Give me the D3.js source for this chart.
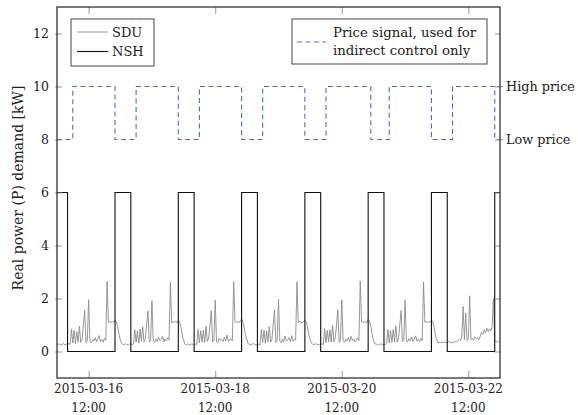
<!DOCTYPE html>
<html>
<head>
<meta charset="utf-8">
<script src="https://cdn.jsdelivr.net/npm/d3@7"></script>
<style>
  body { margin: 0; background: #fff; }
</style>
</head>
<body>
<svg id="chart" width="578" height="415"></svg>
<script>
// tick labels
var xTickLabels = ["2015-03-16 12:00", "2015-03-18 12:00", "2015-03-20 12:00", "2015-03-22 12:00"];
var yTicks = [0, 2, 4, 6, 8, 10, 12];
var priceLabels = [[10, "High price"], [8, "Low price"]];

// NSH heater (kW), step changes
var nshTimes = ["2015-03-16 00:00", "2015-03-16 04:00", "2015-03-16 22:00", "2015-03-17 04:00",
    "2015-03-17 22:00", "2015-03-18 04:00", "2015-03-18 22:00", "2015-03-19 04:00",
    "2015-03-19 22:00", "2015-03-20 04:00", "2015-03-20 22:00", "2015-03-21 04:00",
    "2015-03-21 22:00", "2015-03-22 04:00", "2015-03-22 22:00", "2015-03-23 00:00"];
var nshValues = [6, 0, 6, 0, 6, 0, 6, 0, 6, 0, 6, 0, 6, 0, 6, 6];

// price signal (8 = low, 10 = high)
var priceTimes = ["2015-03-16 00:00", "2015-03-16 06:00", "2015-03-16 22:00", "2015-03-17 06:00",
    "2015-03-17 22:00", "2015-03-18 06:00", "2015-03-18 22:00", "2015-03-19 06:00",
    "2015-03-19 22:00", "2015-03-20 06:00", "2015-03-20 23:00", "2015-03-21 06:00",
    "2015-03-21 22:00", "2015-03-22 06:00", "2015-03-22 22:00", "2015-03-23 00:00"];
var priceValues = [8, 10, 8, 10, 8, 10, 8, 10, 8, 10, 8, 10, 8, 10, 8, 8];

// SDU measured demand (kW), one value per 30 min, one array per day
var sduStart = "2015-03-16 00:00";
var sdu16 = [0.30,0.26,0.28,0.24,0.27,0.30,0.25,0.28,0.26,0.30,0.27,0.85,0.32,0.80,0.30,0.75,0.36,0.95,0.34,0.45,1.00,1.55,0.33,0.40,
    1.95,0.38,0.32,0.45,0.40,0.52,0.36,0.48,0.60,0.38,0.45,0.35,0.50,0.42,2.65,1.10,1.12,1.08,1.15,1.10,1.20,1.12,0.95,0.65];
var sdu17 = [0.45,0.30,0.27,0.25,0.29,0.26,0.24,0.28,0.30,0.25,0.28,0.82,0.35,0.78,0.32,0.85,0.38,0.93,0.36,0.48,1.02,1.52,0.35,0.42,
    1.92,0.40,0.34,0.48,0.38,0.55,0.40,0.45,0.58,0.36,0.47,0.40,0.52,0.44,2.62,1.08,1.13,1.10,1.14,1.09,1.18,1.10,0.92,0.62];
var sdu18 = [0.44,0.28,0.25,0.29,0.26,0.24,0.28,0.27,0.25,0.29,0.26,0.84,0.33,0.79,0.35,0.80,0.34,0.96,0.38,0.50,0.98,1.54,0.36,0.41,
    1.94,0.37,0.35,0.50,0.42,0.46,0.38,0.55,0.40,0.62,0.37,0.45,0.48,0.40,2.64,1.12,1.10,1.14,1.08,1.16,1.22,1.10,0.90,0.60];
var sdu19 = [0.46,0.29,0.26,0.24,0.28,0.30,0.26,0.25,0.29,0.27,0.24,0.83,0.34,0.81,0.31,0.78,0.37,0.94,0.35,0.46,1.01,1.56,0.34,0.43,
    1.96,0.39,0.33,0.47,0.36,0.58,0.41,0.44,0.52,0.37,0.60,0.39,0.46,0.43,2.63,1.09,1.14,1.11,1.07,1.13,1.19,1.12,0.93,0.63];
var sdu20 = [0.45,0.31,0.27,0.25,0.30,0.26,0.28,0.24,0.27,0.29,0.26,0.86,0.33,0.80,0.36,0.82,0.35,1.00,0.37,0.49,0.99,1.58,0.35,0.40,
    1.95,0.41,0.34,0.46,0.39,0.53,0.37,0.57,0.42,0.48,0.36,0.44,0.51,0.42,2.66,1.11,1.12,1.09,1.13,1.10,1.21,1.14,0.96,0.64];
var sdu21 = [0.43,0.30,0.28,0.26,0.25,0.29,0.27,0.24,0.28,0.26,0.30,0.84,0.32,0.79,0.34,0.83,0.36,0.97,0.35,0.47,1.00,1.55,0.37,0.42,
    1.94,0.38,0.36,0.49,0.41,0.54,0.38,0.47,0.59,0.39,0.46,0.37,0.50,0.41,2.62,1.10,1.13,1.08,1.12,1.11,1.18,1.11,0.91,0.61];
var sdu22 = [0.45,0.32,0.35,0.33,0.36,0.32,0.38,0.34,0.33,0.37,0.35,0.32,0.36,0.34,0.38,0.35,0.42,0.45,0.40,0.55,1.70,0.45,1.45,0.42,
    0.50,2.10,0.45,0.50,0.42,0.55,0.48,0.52,0.45,0.58,0.72,0.65,0.82,0.70,0.88,0.75,0.85,0.78,0.90,2.00,0.40,0.35,0.38,0.36];

// Liberation Serif falls back to a sans face here, DejaVu Serif is the serif we get
var serif = 'DejaVu Serif';

d3.select(window).on('load', init);

function init() {
    var svg = d3.select('#chart');
    var left = 57, right = 500, top = 7, bottom = 378;
    var parse = d3.timeParse('%Y-%m-%d %H:%M');

    var x = d3.scaleTime()
        .domain([parse('2015-03-16 00:00'), parse('2015-03-23 00:00')])
        .range([left, right]);
    var y = d3.scaleLinear().domain([-1, 13]).range([bottom, top]);

    // build series
    var t0 = parse(sduStart);
    var sdu = [].concat(sdu16, sdu17, sdu18, sdu19, sdu20, sdu21, sdu22).map(function (v, i) {
        return { t: d3.timeMinute.offset(t0, i * 30), v: v };
    });
    var nsh = nshTimes.map(function (s, i) { return { t: parse(s), v: nshValues[i] }; });
    var price = priceTimes.map(function (s, i) { return { t: parse(s), v: priceValues[i] }; });

    svg.append('clipPath').attr('id', 'plotclip')
        .append('rect').attr('x', left).attr('y', top).attr('width', right - left).attr('height', bottom - top);

    var plot = svg.append('g').attr('clip-path', 'url(#plotclip)');

    var line = d3.line().x(function (d) { return x(d.t); }).y(function (d) { return y(d.v); });
    var stepLine = d3.line().curve(d3.curveStepAfter)
        .x(function (d) { return x(d.t); }).y(function (d) { return y(d.v); });

    plot.append('path').datum(sdu).attr('d', line)
        .attr('fill', 'none').attr('stroke', '#8c8c8c').attr('stroke-width', 0.9);
    plot.append('path').datum(nsh).attr('d', stepLine)
        .attr('fill', 'none').attr('stroke', '#111').attr('stroke-width', 1.1);
    plot.append('path').datum(price).attr('d', stepLine)
        .attr('fill', 'none').attr('stroke', '#5468c8').attr('stroke-width', 1.1)
        .attr('stroke-dasharray', '5,3.5');

    // axes (ticks pointing inward, mirrored like pgfplots)
    var xTicks = xTickLabels.map(parse);
    svg.append('g').attr('transform', 'translate(0,' + bottom + ')')
        .call(d3.axisBottom(x).tickValues(xTicks).tickSizeInner(-7).tickSizeOuter(0).tickFormat(''));
    svg.append('g').attr('transform', 'translate(0,' + top + ')')
        .call(d3.axisTop(x).tickValues(xTicks).tickSizeInner(-7).tickSizeOuter(0).tickFormat(''));
    var yl = svg.append('g').attr('transform', 'translate(' + left + ',0)')
        .call(d3.axisLeft(y).tickValues(yTicks).tickSizeInner(-5).tickSizeOuter(0).tickPadding(8));
    svg.append('g').attr('transform', 'translate(' + right + ',0)')
        .call(d3.axisRight(y).tickValues(yTicks).tickSizeInner(-5).tickSizeOuter(0).tickFormat(''));
    svg.selectAll('.domain').remove();
    svg.selectAll('.tick line').attr('stroke', '#999');
    yl.selectAll('.tick line').attr('x1', -2);
    yl.attr('font-family', serif).attr('font-size', 12.5);
    yl.selectAll('.tick text').attr('fill', '#222');

    // two-line date labels
    svg.append('g').attr('font-family', serif).selectAll('text')
        .data(xTickLabels).enter().append('text')
        .attr('text-anchor', 'middle').attr('font-size', 12).attr('fill', '#222')
        .each(function (s) {
            var p = s.split(' ');
            var tx = x(parse(s));
            d3.select(this).append('tspan').attr('x', tx).attr('y', 393).text(p[0]);
            d3.select(this).append('tspan').attr('x', tx).attr('y', 412).text(p[1]);
        });

    // extra right labels for the price levels
    svg.append('g').selectAll('line').data(priceLabels).enter().append('line')
        .attr('x1', right - 3).attr('x2', right + 3)
        .attr('y1', function (d) { return y(d[0]); }).attr('y2', function (d) { return y(d[0]); })
        .attr('stroke', '#999');
    svg.append('g').attr('font-family', serif).selectAll('text').data(priceLabels).enter().append('text')
        .attr('x', right + 6).attr('y', function (d) { return y(d[0]); }).attr('dy', '0.35em')
        .attr('font-size', 12.8).attr('fill', '#222').text(function (d) { return d[1]; });

    // frame
    svg.append('rect').attr('x', left).attr('y', top).attr('width', right - left).attr('height', bottom - top)
        .attr('fill', 'none').attr('stroke', '#222').attr('stroke-width', 1.2);

    // y label
    svg.append('text').attr('transform', 'translate(23,188) rotate(-90)')
        .attr('font-family', serif).attr('fill', '#222')
        .attr('text-anchor', 'middle').attr('font-size', 14)
        .text('Real power (P) demand [kW]');

    // legend 1
    var lg = svg.append('g').attr('font-family', serif);
    lg.append('rect').attr('x', 71).attr('y', 19).attr('width', 83).attr('height', 47)
        .attr('fill', '#fff').attr('stroke', '#444').attr('stroke-width', 1);
    var items = [['SDU', '#8c8c8c', 0.9, 32], ['NSH', '#111', 1.1, 51.5]];
    items.forEach(function (d) {
        lg.append('line').attr('x1', 77).attr('x2', 108).attr('y1', d[3]).attr('y2', d[3])
            .attr('stroke', d[1]).attr('stroke-width', d[2]);
        lg.append('text').attr('x', 112).attr('y', d[3] + 4.5).attr('font-size', 13).attr('fill', '#222').text(d[0]);
    });

    // legend 2
    var lg2 = svg.append('g').attr('font-family', serif);
    lg2.append('rect').attr('x', 292).attr('y', 19).attr('width', 195).attr('height', 45)
        .attr('fill', '#fff').attr('stroke', '#444').attr('stroke-width', 1);
    lg2.append('line').attr('x1', 297).attr('x2', 326).attr('y1', 42).attr('y2', 42)
        .attr('stroke', '#5468c8').attr('stroke-width', 1.1).attr('stroke-dasharray', '5,3.5');
    lg2.append('text').attr('x', 333).attr('y', 36.5).attr('font-size', 13.3).attr('fill', '#222').text('Price signal, used for');
    lg2.append('text').attr('x', 333).attr('y', 55).attr('font-size', 13.3).attr('fill', '#222').text('indirect control only');
}
</script>
</body>
</html>
